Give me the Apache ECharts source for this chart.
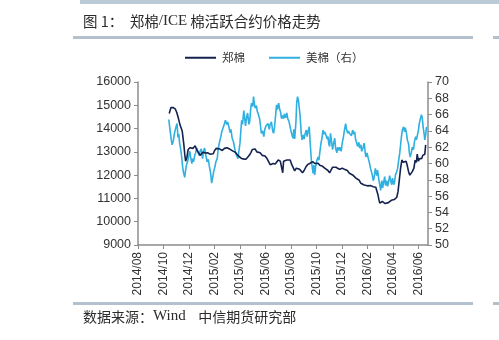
<!DOCTYPE html>
<html>
<head>
<meta charset="utf-8">
<script src="https://cdn.jsdelivr.net/npm/echarts@6/dist/echarts.min.js"></script>
<style>
  html, body { margin: 0; padding: 0; background: #ffffff; }
  #chart { width: 499px; height: 340px; }
</style>
</head>
<body>
<div id="chart"></div>
<script>
// 郑棉 (CZCE cotton, yuan/ton) — left axis
const zzDates = [
  '2014-10-15','2014-10-19','2014-10-21','2014-10-25','2014-10-30','2014-11-02','2014-11-06','2014-11-10','2014-11-15','2014-11-19',
  '2014-11-21','2014-11-23','2014-11-26','2014-11-29','2014-12-04','2014-12-08','2014-12-11','2014-12-16','2014-12-20','2014-12-23',
  '2014-12-28','2014-12-31','2015-01-04','2015-01-09','2015-01-12','2015-01-16','2015-01-21','2015-01-25','2015-01-29','2015-02-01',
  '2015-02-05','2015-02-09','2015-02-13','2015-02-18','2015-02-23','2015-02-28','2015-03-03','2015-03-07','2015-03-11','2015-03-16',
  '2015-03-21','2015-03-25','2015-03-28','2015-04-02','2015-04-07','2015-04-11','2015-04-15','2015-04-18','2015-04-23','2015-04-27',
  '2015-04-30','2015-05-04','2015-05-07','2015-05-11','2015-05-15','2015-05-19','2015-05-24','2015-05-28','2015-05-31','2015-06-05',
  '2015-06-09','2015-06-12','2015-06-16','2015-06-19','2015-06-24','2015-06-28','2015-07-01','2015-07-06','2015-07-09','2015-07-12',
  '2015-07-14','2015-07-18','2015-07-22','2015-07-26','2015-07-30','2015-08-03','2015-08-07','2015-08-10','2015-08-14','2015-08-18',
  '2015-08-22','2015-08-26','2015-08-29','2015-09-02','2015-09-06','2015-09-10','2015-09-15','2015-09-19','2015-09-22','2015-09-27',
  '2015-10-01','2015-10-05','2015-10-09','2015-10-13','2015-10-16','2015-10-21','2015-10-25','2015-10-29','2015-11-02','2015-11-05',
  '2015-11-09','2015-11-13','2015-11-17','2015-11-21','2015-11-25','2015-11-29','2015-12-02','2015-12-07','2015-12-11','2015-12-14',
  '2015-12-19','2015-12-23','2015-12-27','2015-12-31','2016-01-04','2016-01-08','2016-01-12','2016-01-16','2016-01-20','2016-01-24',
  '2016-01-28','2016-02-01','2016-02-04','2016-02-09','2016-02-14','2016-02-20','2016-02-23','2016-02-25','2016-02-27','2016-02-29',
  '2016-03-03','2016-03-06','2016-03-10','2016-03-13','2016-03-17','2016-03-21','2016-03-24','2016-03-28','2016-03-31','2016-04-04',
  '2016-04-08','2016-04-10','2016-04-13','2016-04-16','2016-04-19','2016-04-22','2016-04-25','2016-04-28','2016-05-02','2016-05-05',
  '2016-05-08','2016-05-11','2016-05-13','2016-05-17','2016-05-19','2016-05-21','2016-05-24','2016-05-27','2016-05-29','2016-06-01',
  '2016-06-03','2016-06-06','2016-06-09','2016-06-11','2016-06-14','2016-06-16','2016-06-18'
];
const zzValues = [
  14650,14900,14980,14900,14830,14700,14450,14150,13900,13300,
  12900,12600,12750,13100,13180,13230,13150,13260,13080,13100,
  12850,12900,12980,12950,12880,12960,12900,12880,12920,13050,
  13150,13080,13120,13060,13150,13180,13200,13120,13150,13020,
  12980,12880,12820,12750,12700,12720,12680,12750,12850,12980,
  13100,13180,13120,13000,12930,12960,12850,12800,12820,12700,
  12650,12450,12420,12500,12480,12560,12650,12600,12580,12100,
  12600,12580,12650,12600,12650,12450,12300,12180,12300,12360,
  12250,12300,12100,12200,12350,12450,12500,12560,12580,12500,
  12440,12510,12420,12350,12380,12300,12250,12200,12100,12200,
  12340,12300,12340,12320,12250,12220,12300,12250,12220,12200,
  12080,12150,12010,11980,11870,11910,11780,11650,11680,11580,
  11620,11540,11510,11550,11500,11480,11400,11150,10950,10800,
  10790,10870,10800,10780,10860,10820,10880,10920,10900,10950,
  10940,11050,11300,11800,12300,12650,12550,12510,12600,12400,
  12150,12000,11940,12150,12220,12300,12650,12550,12900,12600,
  12700,12780,12720,12850,12800,12900,13300
];

// 美棉 (ICE cotton, cents/lb) — right axis
const iceDates = [
  '2014-10-14','2014-10-16','2014-10-18','2014-10-20','2014-10-22','2014-10-25','2014-10-27','2014-10-29','2014-11-01','2014-11-03',
  '2014-11-05','2014-11-07','2014-11-09','2014-11-11','2014-11-13','2014-11-16','2014-11-18','2014-11-21','2014-11-23','2014-11-25',
  '2014-11-28','2014-12-01','2014-12-03','2014-12-05','2014-12-08','2014-12-10','2014-12-12','2014-12-15','2014-12-17','2014-12-20',
  '2014-12-23','2014-12-26','2014-12-28','2014-12-31','2015-01-03','2015-01-05','2015-01-08','2015-01-11','2015-01-14','2015-01-17',
  '2015-01-19','2015-01-22','2015-01-24','2015-01-25','2015-01-28','2015-01-30','2015-02-02','2015-02-04','2015-02-07','2015-02-09',
  '2015-02-12','2015-02-15','2015-02-17','2015-02-20','2015-02-23','2015-02-25','2015-02-28','2015-03-02','2015-03-05','2015-03-08',
  '2015-03-10','2015-03-13','2015-03-16','2015-03-19','2015-03-21','2015-03-24','2015-03-27','2015-03-29','2015-04-01','2015-04-03',
  '2015-04-05','2015-04-07','2015-04-10','2015-04-12','2015-04-14','2015-04-17','2015-04-19','2015-04-22','2015-04-24','2015-04-26',
  '2015-04-28','2015-05-01','2015-05-03','2015-05-05','2015-05-07','2015-05-10','2015-05-12','2015-05-15','2015-05-18','2015-05-20',
  '2015-05-22','2015-05-25','2015-05-28','2015-05-30','2015-06-02','2015-06-04','2015-06-07','2015-06-10','2015-06-12','2015-06-15',
  '2015-06-18','2015-06-20','2015-06-22','2015-06-25','2015-06-27','2015-06-29','2015-07-02','2015-07-04','2015-07-07','2015-07-09',
  '2015-07-11','2015-07-14','2015-07-16','2015-07-19','2015-07-22','2015-07-24','2015-07-27','2015-07-29','2015-08-01','2015-08-03',
  '2015-08-06','2015-08-08','2015-08-10','2015-08-13','2015-08-15','2015-08-17','2015-08-19','2015-08-21','2015-08-23','2015-08-26',
  '2015-08-28','2015-08-31','2015-09-02','2015-09-04','2015-09-07','2015-09-09','2015-09-11','2015-09-14','2015-09-16','2015-09-19',
  '2015-09-21','2015-09-23','2015-09-25','2015-09-27','2015-09-29','2015-10-02','2015-10-05','2015-10-07','2015-10-09','2015-10-12',
  '2015-10-14','2015-10-17','2015-10-19','2015-10-21','2015-10-24','2015-10-27','2015-10-29','2015-10-31','2015-11-02','2015-11-04',
  '2015-11-07','2015-11-09','2015-11-11','2015-11-14','2015-11-16','2015-11-19','2015-11-21','2015-11-24','2015-11-26','2015-11-29',
  '2015-12-02','2015-12-05','2015-12-07','2015-12-10','2015-12-12','2015-12-15','2015-12-17','2015-12-19','2015-12-22','2015-12-24',
  '2015-12-27','2015-12-30','2016-01-01','2016-01-03','2016-01-06','2016-01-08','2016-01-11','2016-01-13','2016-01-16','2016-01-18',
  '2016-01-21','2016-01-24','2016-01-26','2016-01-28','2016-01-31','2016-02-03','2016-02-05','2016-02-08','2016-02-10','2016-02-12',
  '2016-02-14','2016-02-16','2016-02-19','2016-02-22','2016-02-24','2016-02-27','2016-02-29','2016-03-02','2016-03-05','2016-03-07',
  '2016-03-09','2016-03-12','2016-03-14','2016-03-17','2016-03-19','2016-03-21','2016-03-24','2016-03-26','2016-03-29','2016-03-31',
  '2016-04-03','2016-04-05','2016-04-07','2016-04-10','2016-04-12','2016-04-14','2016-04-17','2016-04-19','2016-04-21','2016-04-23',
  '2016-04-26','2016-04-28','2016-04-30','2016-05-03','2016-05-05','2016-05-08','2016-05-10','2016-05-12','2016-05-15','2016-05-17',
  '2016-05-20','2016-05-22','2016-05-25','2016-05-27','2016-05-30','2016-06-01','2016-06-03','2016-06-06','2016-06-08','2016-06-10',
  '2016-06-12','2016-06-14','2016-06-16','2016-06-18','2016-06-20'
];
const iceValues = [
  65.4,64.5,63.7,62.9,62.3,62.8,63.5,64.0,64.6,64.9,
  63.2,63.6,62.5,61.9,61.2,59.6,58.9,58.3,59.2,59.8,
  60.3,61.0,61.5,60.8,60.0,60.6,60.2,61.0,61.3,61.9,
  61.4,61.0,61.5,61.8,60.6,61.4,61.9,61.0,60.2,60.5,
  59.8,59.0,58.2,57.6,58.4,59.0,59.6,60.2,60.6,61.7,
  62.6,63.3,63.9,64.4,64.9,65.3,64.8,65.1,64.5,63.8,
  64.2,63.1,62.7,61.9,61.3,61.0,60.6,61.4,62.5,64.0,
  65.3,64.8,66.5,65.6,64.6,65.8,66.2,64.8,65.2,66.6,
  67.4,67.0,68.2,67.3,66.8,67.1,66.4,66.0,65.4,64.6,
  63.7,64.0,63.3,64.1,64.6,64.4,64.9,64.2,64.8,65.1,
  64.0,63.7,64.3,66.0,67.2,66.6,67.4,66.8,66.2,65.5,
  65.9,65.5,66.1,65.6,66.2,65.5,65.2,65.3,64.0,63.6,
  63.1,64.2,63.0,65.0,67.5,68.2,67.8,68.0,66.0,63.7,
  62.9,63.5,63.0,63.6,64.1,63.3,63.9,64.5,62.7,60.4,
  59.6,58.8,59.8,58.6,59.6,60.4,60.8,60.4,61.3,62.5,
  63.0,64.1,63.6,63.9,63.5,63.0,63.3,62.4,62.1,63.7,
  62.5,61.7,62.4,63.1,61.9,61.3,62.0,61.6,62.0,61.5,
  62.6,63.4,64.1,64.9,64.2,63.7,64.0,63.7,63.9,63.4,
  64.1,63.6,63.9,63.0,62.9,62.1,62.6,61.9,62.3,61.5,
  61.9,62.5,61.6,60.8,61.3,60.6,60.2,59.4,59.2,58.6,
  57.9,58.2,59.4,58.5,59.2,58.0,57.4,56.7,57.9,57.0,
  57.6,58.4,57.3,57.9,57.2,57.6,58.5,58.0,57.4,58.2,
  57.4,57.8,58.6,59.0,59.4,60.2,61.3,62.3,63.3,64.1,
  64.5,63.9,64.4,63.7,62.9,62.4,61.3,60.8,61.4,62.0,
  61.7,62.6,63.3,62.9,63.6,64.1,64.9,65.6,66.0,65.6,
  64.5,63.8,62.9,63.5,64.5
];

// axis setup
const axisStart = [2014, 8];          // first month on the x axis
const xMonthSpan = 22.75;              // months shown
const leftTicks = [9000, 16000, 1000];
const rightTicks = [50, 70, 2];

const seriesNames = ['郑棉', '美棉（右）'];
const titleText = ['图 1：  郑棉', '/ICE', ' 棉活跃合约价格走势'];
const sourceText = ['数据来源：', 'Wind', '    中信期货研究部'];

function monthsFromStart(s) {
  const [y, m, d] = s.split('-').map(Number);
  const dim = new Date(y, m, 0).getDate();
  return (y - axisStart[0]) * 12 + (m - axisStart[1]) + (d - 1) / dim;
}
function monthLabel(v) {
  const t = axisStart[0] * 12 + (axisStart[1] - 1) + Math.round(v);
  const y = Math.floor(t / 12), m = t % 12 + 1;
  return y + '/' + (m < 10 ? '0' + m : m);
}
const pairs = (dates, vals) => dates.map((d, i) => [monthsFromStart(d), vals[i]]);
const plain = v => String(v);

const NAVY = '#14224f';
const SKY = '#2fb0e0';
const AXIS = '#8c8c8c';
const TEXT = '#333333';
const FONT = '"Liberation Sans", Arial, "Noto Sans CJK SC", sans-serif';
const CJK = '"Noto Sans CJK SC", sans-serif';
const SERIF = '"Liberation Serif", "Times New Roman", serif';
const RULE = '#b3c0ce';

const chart = echarts.init(document.getElementById('chart'), null, { renderer: 'canvas' });

chart.setOption({
  animation: false,
  backgroundColor: '#ffffff',
  textStyle: { fontFamily: FONT },
  grid: { left: 138, right: 71, top: 82, bottom: 95 },
  legend: {
    left: 180, top: 47,
    icon: 'rect',
    itemWidth: 31, itemHeight: 2, itemGap: 24,
    textStyle: { fontFamily: CJK, fontSize: 11.5, color: TEXT, padding: [0, 0, 0, 1] },
    data: seriesNames
  },
  xAxis: {
    type: 'value',
    min: 0, max: xMonthSpan, interval: 2,
    splitLine: { show: false },
    axisLine: { lineStyle: { color: AXIS, width: 1.5 } },
    axisTick: { show: true, length: 4, lineStyle: { color: AXIS } },
    axisLabel: {
      rotate: 90, fontSize: 12, color: TEXT, margin: 7,
      showMaxLabel: false,
      formatter: monthLabel
    }
  },
  yAxis: [
    {
      type: 'value', position: 'left',
      min: leftTicks[0], max: leftTicks[1], interval: leftTicks[2],
      splitLine: { show: false },
      axisLine: { show: true, lineStyle: { color: AXIS, width: 1.5 } },
      axisTick: { show: true, length: 4, lineStyle: { color: AXIS } },
      axisLabel: { fontSize: 12.5, color: TEXT, margin: 7, formatter: plain }
    },
    {
      type: 'value', position: 'right',
      min: rightTicks[0], max: rightTicks[1], interval: rightTicks[2],
      splitLine: { show: false },
      axisLine: { show: true, lineStyle: { color: AXIS, width: 1.5 } },
      axisTick: { show: true, length: 4, lineStyle: { color: AXIS } },
      axisLabel: { fontSize: 12.5, color: TEXT, margin: 7, formatter: plain }
    }
  ],
  series: [
    {
      name: seriesNames[0], type: 'line', yAxisIndex: 0,
      data: pairs(zzDates, zzValues),
      symbol: 'none', z: 3,
      lineStyle: { color: NAVY, width: 1.6 },
      itemStyle: { color: NAVY }
    },
    {
      name: seriesNames[1], type: 'line', yAxisIndex: 1,
      data: pairs(iceDates, iceValues),
      symbol: 'none', z: 2,
      lineStyle: { color: SKY, width: 1.6 },
      itemStyle: { color: SKY }
    }
  ],
  graphic: [
    // page header band and rules
    { type: 'rect', shape: { x: 80, y: 0, width: 419, height: 4 }, style: { fill: '#bccad8' } },
    { type: 'rect', shape: { x: 73, y: 36, width: 400, height: 3 }, style: { fill: RULE } },
    { type: 'rect', shape: { x: 493, y: 36, width: 6, height: 3 }, style: { fill: RULE } },
    { type: 'rect', shape: { x: 73, y: 302, width: 400, height: 3 }, style: { fill: RULE } },
    { type: 'rect', shape: { x: 493, y: 302, width: 6, height: 3 }, style: { fill: RULE } },
    {
      type: 'text', left: 83, top: 14,
      style: {
        text: '{a|' + titleText[0] + '}{b|' + titleText[1] + '}{a|' + titleText[2] + '}',
        rich: {
          a: { fontFamily: CJK, fontSize: 14.5, fill: '#2b2b2b' },
          b: { fontFamily: SERIF, fontSize: 15, fill: '#2b2b2b' }
        }
      }
    },
    {
      type: 'text', left: 83, top: 309,
      style: {
        text: '{a|' + sourceText[0] + '}{b|' + sourceText[1] + '}{a|' + sourceText[2] + '}',
        rich: {
          a: { fontFamily: CJK, fontSize: 14, fill: '#2b2b2b' },
          b: { fontFamily: SERIF, fontSize: 15, fill: '#2b2b2b' }
        }
      }
    }
  ]
});
</script>
</body>
</html>
